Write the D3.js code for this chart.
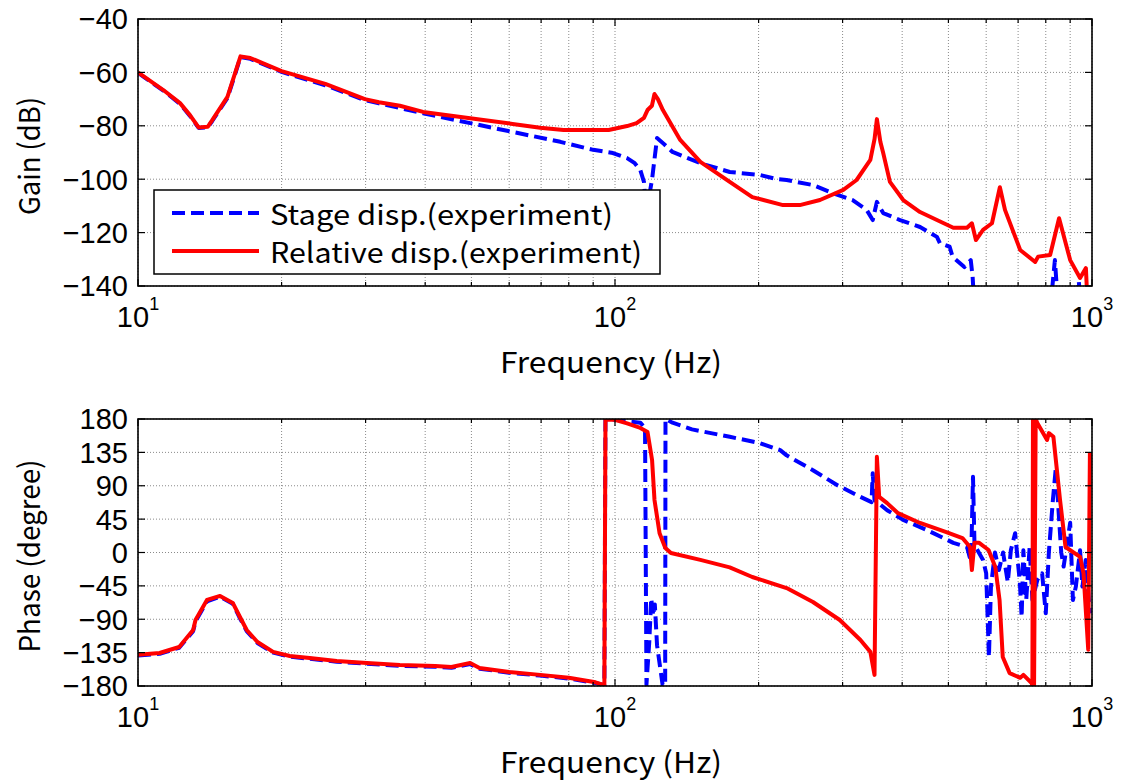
<!DOCTYPE html>
<html>
<head>
<meta charset="utf-8">
<script src="https://cdn.jsdelivr.net/npm/d3@7"></script>
<style>
  html, body { margin: 0; padding: 0; background: #fff; }
  svg { display: block; }
</style>
</head>
<body>
<svg id="chart" width="1123" height="782"></svg>
<script>
// ---------------- DATA ----------------
const seriesNames = ["Stage disp.(experiment)", "Relative disp.(experiment)"];
const xTickDecades = [10, 100, 1000];
const xTickExponents = ["1", "2", "3"];
const gainTicks = [-40, -60, -80, -100, -120, -140];
const phaseTicks = [180, 135, 90, 45, 0, -45, -90, -135, -180];

// Gain (dB) — stage displacement [Hz, dB]
const stageGain = [
  [10,-60.2],[11.3,-66.8],[12.25,-71.8],[12.85,-76.3],[13.4,-80.8],[14.0,-80.6],[14.3,-78.3],
  [15.4,-69.6],[16.4,-54.3],[17.2,-54.9],[18.3,-56.9],[20,-59.8],[24.7,-64.8],[29.9,-70.4],
  [32,-71.6],[39.6,-75.3],[49.7,-79],[61,-82.3],[76.8,-86],[90,-89],[99,-90.2],[106,-92.1],
  [110,-94],[113,-96.6],[115,-101],[116.2,-112],[117.5,-108],[119.6,-100],[122.5,-84.6],
  [127,-87],[132,-89.8],[151,-94],[174,-97.3],[201,-98.4],[219,-100],[229,-100.3],[260,-102.2],
  [286,-105.2],[315,-107.8],[337,-111.5],[347,-115.3],[354,-108.5],[365,-112.7],[396,-115.3],
  [436,-117.9],[473,-121.6],[480,-124],[503,-125.3],[510,-129],[528,-131.4],[540,-132.9],
  [557,-130.3],[562,-136.6],[566,-146],[820,-146],[836,-130.3],[848,-146],[930,-146],
  [938,-138],[946,-146]
];
// Gain (dB) — relative displacement [Hz, dB]
const relGain = [
  [10,-60],[11.3,-66.6],[12.25,-71.5],[12.85,-76],[13.4,-80.6],[14.0,-80.4],[14.3,-78],
  [15.4,-69.2],[16.4,-54],[17.2,-54.6],[18.3,-56.6],[20,-59.5],[24.7,-64.3],[29.9,-70],
  [32,-71.2],[35.4,-72.5],[39.6,-74.8],[49.7,-77.2],[61,-79.3],[69.7,-80.7],[78,-81.6],
  [97,-81.6],[106,-80.1],[111,-79],[115,-77],[117,-74.1],[119.5,-72.5],[121,-68.1],[123,-70],
  [126,-74.1],[137,-85.3],[151,-93.5],[174,-101],[194,-106.7],[225,-109.7],[244,-109.7],
  [269,-107.8],[301,-104],[321,-100.3],[343,-92.8],[350,-85],[354,-77.5],[360,-86],[365,-90.2],
  [377,-101],[402,-107.8],[436,-112.3],[473,-115.3],[512,-118.2],[547,-118.2],[560,-116.5],
  [571,-122.8],[591,-119],[617,-116.5],[641,-103],[657,-111.5],[707,-126.5],[760,-131],
  [771,-129],[817,-128.4],[853,-114.6],[900,-130.3],[944,-137],[971,-133.3],[976,-142]
];
// Phase (degree) — stage displacement [Hz, deg]
const stagePhase = [
  [10,-139],[11.1,-136.5],[12.2,-128.4],[13.05,-106],[13.2,-93],[13.95,-66],[14.86,-59.5],
  [15.8,-69],[16.4,-90],[16.9,-106],[17.8,-122],[19.2,-135],[20.8,-140.5],[22.9,-143.2],
  [26.1,-147.3],[30.2,-150],[35.4,-152.7],[42,-154],[45.4,-155.4],[49.7,-150.5],[52,-156.7],
  [60,-162],[69.7,-166],[80,-170],[91,-176],[95,-179],[95.5,179],[100,179],[106,177],
  [113,175],[115.6,168],[116.4,-178],[118,-120],[119.1,-62],[120.3,-85],[121.2,-70],
  [122.5,-125],[125.8,-178],[127.4,-180],[127.6,180],[132,175],[145,166],[174,156],
  [201,147.6],[222,138],[229,131],[260,111],[292,91],[327,75],[345,68],[347,107],[350,71],
  [372,57],[402,44],[450,30.5],[512,13],[547,7.4],[554,-6],[558,-10],[563,102],[567,13],
  [571,7],[591,-10],[600,-28],[608,-141],[614,-46],[626,0],[638,-23.6],[651,0],[666,-40],
  [676,3.4],[690,26],[706,-41],[712,-87],[718,3],[728,-64],[740,7],[750,-64],[768,-37],
  [786,-28],[800,-82],[812,0],[828,71],[840,115],[848,71],[862,0],[872,-19],[900,40],
  [912,-64],[925,-46],[944,3],[955,-46],[970,-10],[990,-82]
];
// Phase (degree) — relative displacement [Hz, deg]
const relPhase = [
  [10,-138],[11.1,-135.5],[12.2,-127.4],[13.05,-104.5],[13.2,-91],[13.95,-64],[14.86,-58.6],
  [15.8,-68],[16.4,-88.3],[16.9,-104.5],[17.8,-120.7],[19.2,-134],[20.8,-139.5],[22.9,-142.2],
  [26.1,-146.3],[30.2,-149],[35.4,-151.7],[42,-153],[45.4,-154.4],[49.7,-149],[52,-155.7],
  [60,-161],[69.7,-165],[80,-169],[91,-175],[95,-179],[95.5,179],[100,179],[106,174],
  [113,168],[117,162.5],[119.6,124.7],[121,70.8],[124,26],[127.5,6],[131,-0.7],[151,-10],
  [174,-20],[194,-33],[229,-48],[260,-66.7],[296,-91],[327,-118],[343,-134],[350,-165],
  [354,129],[358,75],[372,66.6],[392,53],[436,39.8],[495,27.6],[535,19.5],[555,7.4],
  [560,-23.6],[567,13],[580,13],[607,3.4],[627,-19.5],[640,-64],[650,-141],[672,-162.6],
  [707,-169],[718,-165],[747,-176],[750,-180],[752,180],[756,-180],[762,180],[768,174.6],
  [805,151.7],[812,161],[830,156],[857,71],[880,7.4],[944,-6],[960,-28],[982,-131],[990,135]
];

// ---------------- LAYOUT ----------------
const svg = d3.select("#chart");
const X0 = 138, X1 = 1092;
const panels = [
  { top: 19, bottom: 286, domain: [-140, -40], ticks: gainTicks,
    series: [stageGain, relGain], label: "Gain (dB)", labelLen: 118, labelY: 156, id: "g" },
  { top: 419, bottom: 686, domain: [-180, 180], ticks: phaseTicks,
    series: [stagePhase, relPhase], label: "Phase (degree)", labelLen: 193, labelY: 556, id: "p" }
];
const colors = ["#0000ff", "#ff0000"];
const dashes = ["13,6", null];

const x = d3.scaleLog().domain([10, 1000]).range([X0, X1]);
const minorTicks = [];
[10, 100].forEach(d => { for (let k = 2; k <= 9; k++) minorTicks.push(d * k); });

const tickFont = "'Liberation Sans', Arial, sans-serif";
const labelFont = "'Noto Sans CJK JP', 'Noto Sans', sans-serif";

panels.forEach(P => {
  const y = d3.scaleLinear().domain(P.domain).range([P.bottom, P.top]);
  const g = svg.append("g");

  svg.append("defs").append("clipPath").attr("id", "clip-" + P.id)
    .append("rect").attr("x", X0).attr("y", P.top).attr("width", X1 - X0).attr("height", P.bottom - P.top);

  // grid
  const grid = g.append("g").attr("stroke", "#8a8a8a").attr("stroke-width", 1).attr("stroke-dasharray", "1,2");
  xTickDecades.concat(minorTicks).forEach(v => {
    grid.append("line").attr("x1", x(v)).attr("x2", x(v)).attr("y1", P.top).attr("y2", P.bottom);
  });
  P.ticks.forEach(v => {
    grid.append("line").attr("x1", X0).attr("x2", X1).attr("y1", y(v)).attr("y2", y(v));
  });

  // series
  const line = d3.line().x(d => x(d[0])).y(d => y(d[1]));
  const plot = g.append("g").attr("clip-path", "url(#clip-" + P.id + ")");
  P.series.forEach((s, i) => {
    plot.append("path").datum(s).attr("d", line)
      .attr("fill", "none").attr("stroke", colors[i]).attr("stroke-width", 4)
      .attr("stroke-linejoin", "round")
      .attr("stroke-dasharray", dashes[i]);
  });

  // ticks (inward, all sides)
  const tk = g.append("g").attr("stroke", "#000").attr("stroke-width", 1.2);
  xTickDecades.forEach(v => {
    tk.append("line").attr("x1", x(v)).attr("x2", x(v)).attr("y1", P.bottom).attr("y2", P.bottom - 7);
    tk.append("line").attr("x1", x(v)).attr("x2", x(v)).attr("y1", P.top).attr("y2", P.top + 7);
  });
  minorTicks.forEach(v => {
    tk.append("line").attr("x1", x(v)).attr("x2", x(v)).attr("y1", P.bottom).attr("y2", P.bottom - 4);
    tk.append("line").attr("x1", x(v)).attr("x2", x(v)).attr("y1", P.top).attr("y2", P.top + 4);
  });
  P.ticks.forEach(v => {
    tk.append("line").attr("x1", X0).attr("x2", X0 + 7).attr("y1", y(v)).attr("y2", y(v));
    tk.append("line").attr("x1", X1).attr("x2", X1 - 7).attr("y1", y(v)).attr("y2", y(v));
  });

  // box
  g.append("rect").attr("x", X0).attr("y", P.top).attr("width", X1 - X0).attr("height", P.bottom - P.top)
    .attr("fill", "none").attr("stroke", "#000").attr("stroke-width", 1.6);

  // y tick labels
  P.ticks.forEach(v => {
    g.append("text").attr("x", X0 - 10).attr("y", y(v)).attr("dy", "0.36em")
      .attr("text-anchor", "end").attr("font-family", tickFont).attr("font-size", 29)
      .text(v < 0 ? "\u2212" + Math.abs(v) : String(v));
  });

  // x tick labels 10^n
  xTickDecades.forEach((v, i) => {
    const t = g.append("text").attr("x", x(v)).attr("y", P.bottom + 41)
      .attr("text-anchor", "middle").attr("font-family", tickFont).attr("font-size", 29);
    t.append("tspan").text("10");
    t.append("tspan").attr("font-size", 18).attr("dy", -17).text(xTickExponents[i]);
  });

  // axis labels
  g.append("text").attr("x", 611).attr("y", P.bottom + 87).attr("text-anchor", "middle")
    .attr("font-family", labelFont).attr("font-size", 29)
    .attr("textLength", 222).attr("lengthAdjust", "spacingAndGlyphs")
    .text("Frequency (Hz)");
  g.append("text").attr("transform", `translate(40,${P.labelY}) rotate(-90)`).attr("text-anchor", "middle")
    .attr("font-family", labelFont).attr("font-size", 29)
    .attr("textLength", P.labelLen).attr("lengthAdjust", "spacingAndGlyphs")
    .text(P.label);
});

// legend
const lg = svg.append("g");
lg.append("rect").attr("x", 154).attr("y", 190).attr("width", 506).attr("height", 84)
  .attr("fill", "#fff").attr("stroke", "#000").attr("stroke-width", 1.5);
const legendRows = [{ y: 213, base: 225, len: 343 }, { y: 251, base: 263, len: 372 }];
seriesNames.forEach((name, i) => {
  const r = legendRows[i];
  lg.append("line").attr("x1", 172).attr("x2", 259).attr("y1", r.y).attr("y2", r.y)
    .attr("stroke", colors[i]).attr("stroke-width", 4).attr("stroke-dasharray", dashes[i]);
  lg.append("text").attr("x", 270).attr("y", r.base)
    .attr("font-family", labelFont).attr("font-size", 28)
    .attr("textLength", r.len).attr("lengthAdjust", "spacingAndGlyphs")
    .text(name);
});
</script>
</body>
</html>
